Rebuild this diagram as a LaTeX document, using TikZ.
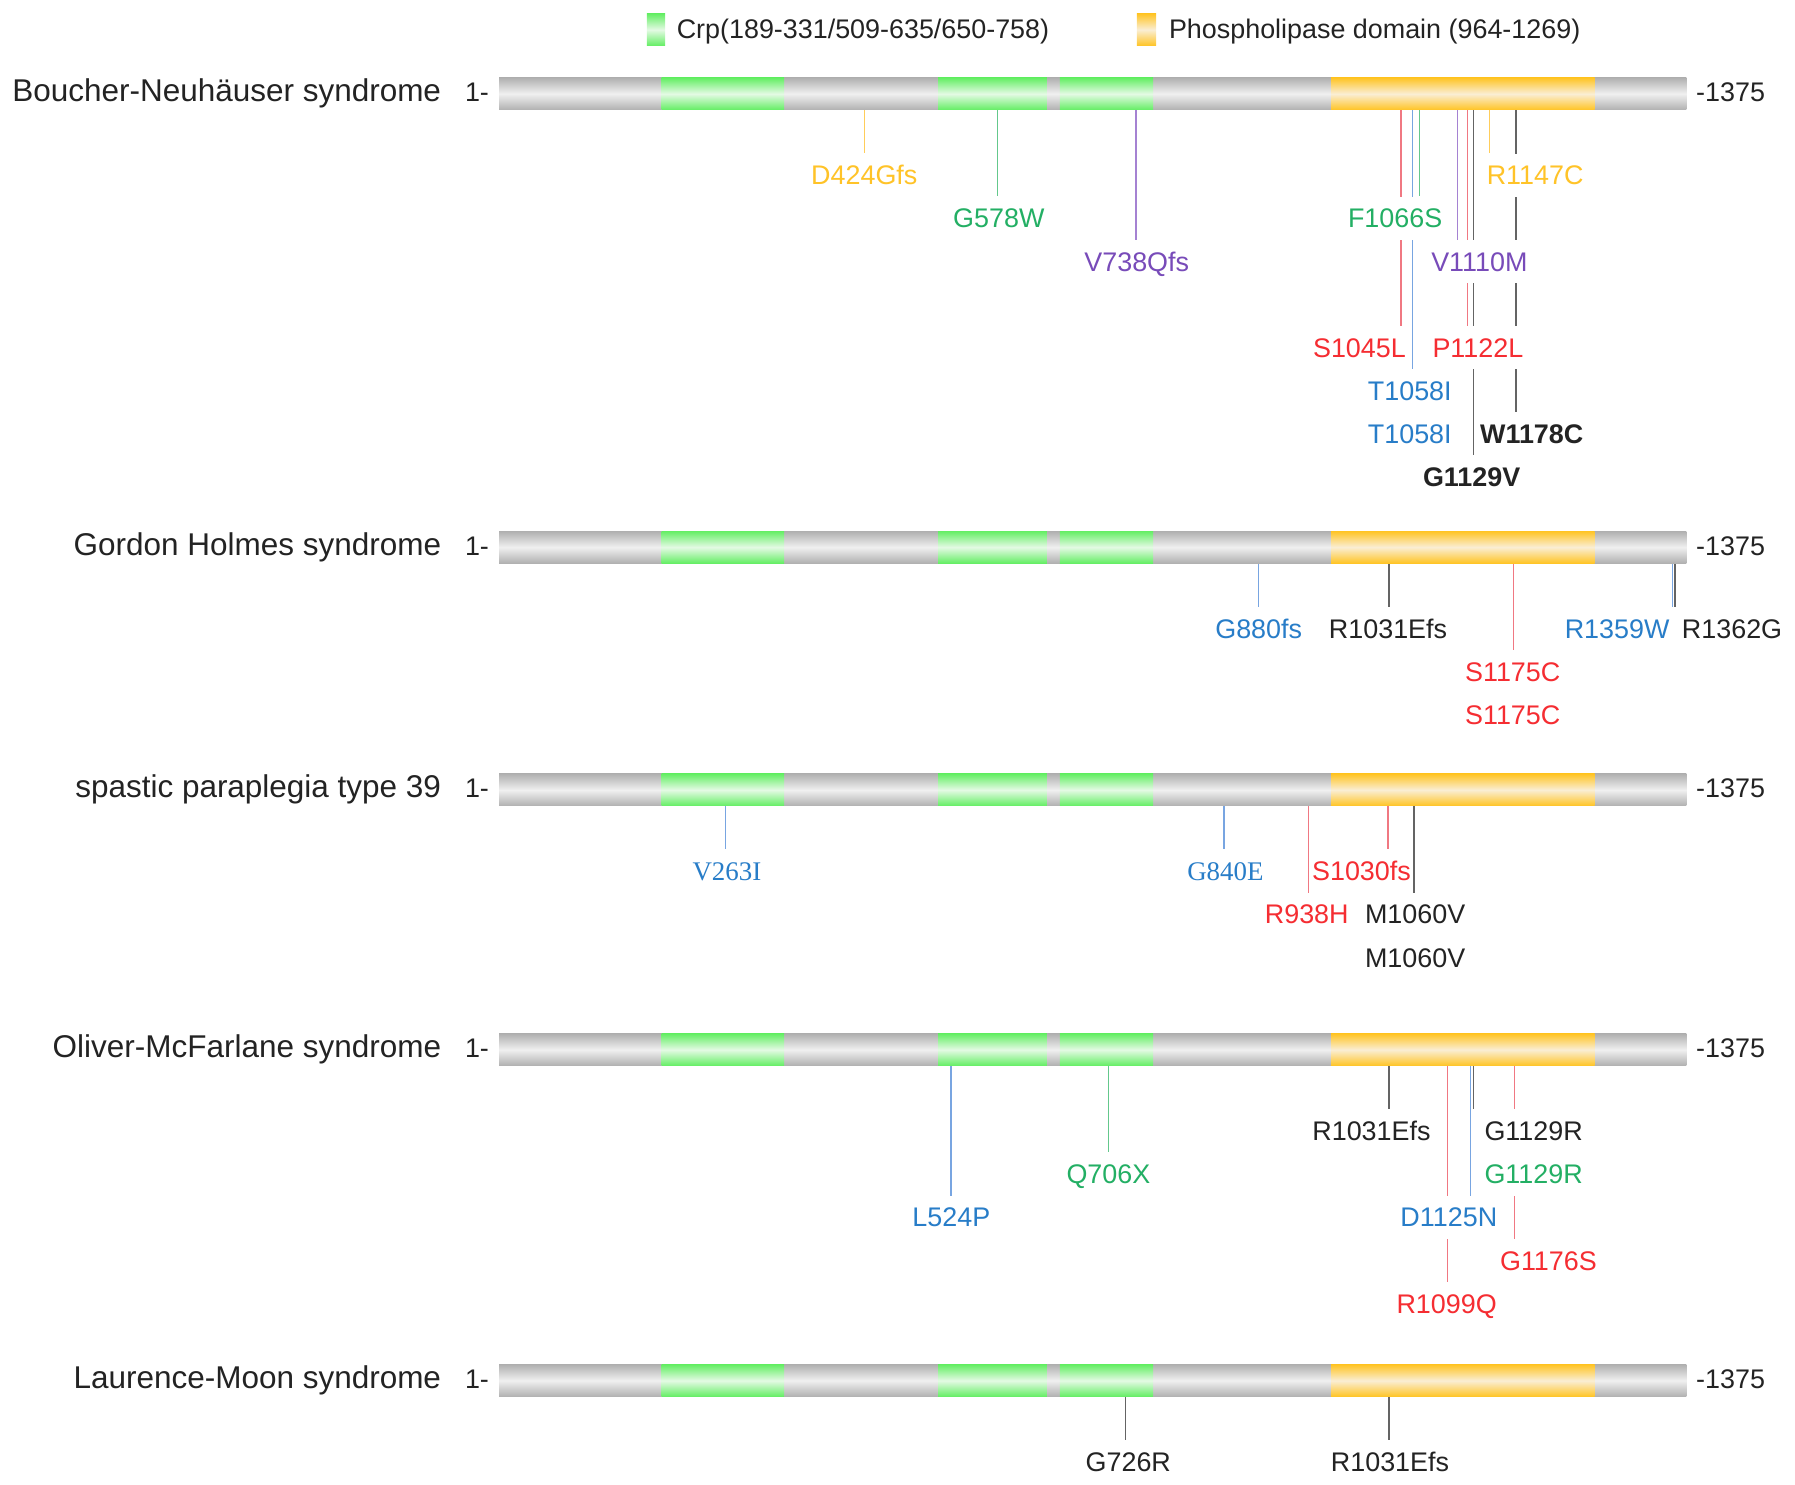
\documentclass[tikz,border=0pt]{standalone}
\usepackage{fontspec}
\setmainfont{Liberation Sans}
\newfontfamily\timesfont{Liberation Serif}
\usetikzlibrary{backgrounds}
\definecolor{baredge}{RGB}{176,176,176}
\definecolor{barmid}{RGB}{240,240,240}
\definecolor{crp}{RGB}{100,238,100}
\definecolor{crpmid}{RGB}{228,250,228}
\definecolor{pld}{RGB}{255,196,36}
\definecolor{pldmid}{RGB}{250,238,212}
\definecolor{mred}{RGB}{245,45,50}
\definecolor{mblue}{RGB}{40,125,200}
\definecolor{mgreen}{RGB}{35,175,100}
\definecolor{mpurple}{RGB}{120,75,185}
\definecolor{mgold}{RGB}{255,195,40}
\definecolor{mblack}{RGB}{35,35,35}
\definecolor{lred}{RGB}{240,120,130}
\definecolor{lblue}{RGB}{120,165,225}
\definecolor{lgreen}{RGB}{100,200,140}
\definecolor{lpurple}{RGB}{165,130,210}
\definecolor{lgold}{RGB}{255,205,90}
\definecolor{lgrey}{RGB}{100,100,100}

\begin{document}
\begin{tikzpicture}[x=1pt,y=-1pt,
  font=\fontsize{23.5}{28}\selectfont,
  bar/.style={top color=baredge,bottom color=baredge,middle color=barmid},
  crpdom/.style={top color=crp,bottom color=crp,middle color=crpmid},
  pldom/.style={top color=pld,bottom color=pld,middle color=pldmid},
  tag/.style={anchor=base west,inner sep=0pt,text=mblack},
  disease/.style={anchor=base east,inner sep=0pt,text=mblack,font=\fontsize{27.5}{32}\selectfont},
  mut/.style={fill=white,inner xsep=0.5pt,inner ysep=0pt,minimum height=37.7pt,text height=16.8pt,text depth=0pt},
  hit/.style={line width=1.2pt}]
\useasboundingbox (0,0) rectangle (1568,1297);
\shade[crpdom] (565,12) rectangle (581,40);
\node[tag] (crpkey) at (591,34) {Crp(189-331/509-635/650-758)};
\shade[pldom] (993,12) rectangle (1010,40);
\node[tag] (pldkey) at (1021,34) {Phospholipase domain (964-1269)};
\foreach \yc/\dname [count=\i] in {82/Boucher-Neuhäuser syndrome,478/Gordon Holmes syndrome,690/spastic paraplegia type 39,917/Oliver-McFarlane syndrome,1206/Laurence-Moon syndrome}{
  \node[disease] (dis\i) at (385.5,\yc+7) {\dname};
  \node[tag] (first\i) at (406,\yc+7) {1-};
  \node[tag] (last\i) at (1481.5,\yc+7) {-1375};
  \shade[bar] (436,\yc-14) rectangle (1473,\yc+14);
  \begin{scope}[xshift=435.25pt,x=0.7547pt]
    \shade[crpdom] (189,\yc-14) rectangle (331,\yc+14);
    \shade[crpdom] (509,\yc-14) rectangle (635,\yc+14);
    \shade[crpdom] (650,\yc-14) rectangle (758,\yc+14);
    \shade[pldom] (964,\yc-14) rectangle (1269,\yc+14);
  \end{scope}
}
\begin{scope}[xshift=435.25pt,x=0.7547pt]
\coordinate (bn424) at (424,96);
\coordinate (bn578) at (578,96);
\coordinate (bn738) at (738,96);
\coordinate (bn1045) at (1045,96);
\coordinate (bn1058) at (1058,96);
\coordinate (bn1066) at (1066,96);
\coordinate (bn1110) at (1110,96);
\coordinate (bn1122) at (1122,96);
\coordinate (bn1129) at (1129,96);
\coordinate (bn1147) at (1147,96);
\coordinate (bn1178) at (1178,96);
\coordinate (gh880) at (880,492);
\coordinate (gh1031) at (1031,492);
\coordinate (gh1175) at (1175,492);
\coordinate (gh1359) at (1359,492);
\coordinate (gh1362) at (1362,492);
\coordinate (sp263) at (263,704);
\coordinate (sp840) at (840,704);
\coordinate (sp938) at (938,704);
\coordinate (sp1030) at (1030,704);
\coordinate (sp1060) at (1060,704);
\coordinate (om524) at (524,931);
\coordinate (om706) at (706,931);
\coordinate (om1031) at (1031,931);
\coordinate (om1099) at (1099,931);
\coordinate (om1125) at (1125,931);
\coordinate (om1129) at (1129,931);
\coordinate (om1176) at (1176,931);
\coordinate (lm726) at (726,1220);
\coordinate (lm1031) at (1031,1220);
\end{scope}

\node[mut,text=mgold] (bnD424) at (755,153) {D424Gfs};
\node[mut,text=mgreen] (bnG578) at (872.5,190.7) {G578W};
\node[mut,text=mpurple] (bnV738) at (993,228.4) {V738Qfs};
\node[mut,text=mgreen] (bnF1066) at (1218.7,190.7) {F1066S};
\node[mut,text=mpurple] (bnV1110) at (1292.3,228.4) {V1110M};
\node[mut,text=mred] (bnS1045) at (1187.5,303.8) {S1045L};
\node[mut,text=mred] (bnP1122) at (1291,303.8) {P1122L};
\node[mut,text=mblue] (bnT1058) at (1231.5,341.5) {T1058I};
\node[mut,text=mblue] (bnT1058b) at (1231.5,379.2) {T1058I};
\node[mut,text=mgold] (bnR1147) at (1341,153) {R1147C};
\node[mut,text=mblack] (bnW1178) at (1338,379.2) {\bfseries W1178C};
\node[mut,text=mblack] (bnG1129) at (1285.5,416.9) {\bfseries G1129V};

\node[mut,text=mblue] (ghG880) at (1099.5,549) {G880fs};
\node[mut,text=mblack] (ghR1031) at (1212.5,549) {R1031Efs};
\node[mut,text=mred] (ghS1175) at (1321.4,586.7) {S1175C};
\node[mut,text=mred] (ghS1175b) at (1321.4,624.4) {S1175C};
\node[mut,text=mblue] (ghR1359) at (1412.6,549) {R1359W};
\node[mut,text=mblack] (ghR1362) at (1513,549) {R1362G};

\node[mut,text=mblue] (spV263) at (635,761) {\timesfont V263I};
\node[mut,text=mblue] (spG840) at (1070.4,761) {\timesfont G840E};
\node[mut,text=mred] (spS1030) at (1189.3,761) {S1030fs};
\node[mut,text=mred] (spR938) at (1141.5,798.7) {R938H};
\node[mut,text=mblack] (spM1060) at (1236.2,798.7) {M1060V};
\node[mut,text=mblack] (spM1060b) at (1236.2,836.4) {M1060V};

\node[mut,text=mblack] (omR1031) at (1198,988) {R1031Efs};
\node[mut,text=mblack] (omG1129) at (1339.7,988) {G1129R};
\node[mut,text=mgreen] (omQ706) at (968.2,1025.7) {Q706X};
\node[mut,text=mgreen] (omG1129b) at (1339.7,1025.7) {G1129R};
\node[mut,text=mblue] (omL524) at (831,1063.4) {L524P};
\node[mut,text=mblue] (omD1125) at (1265.6,1063.4) {D1125N};
\node[mut,text=mred] (omG1176) at (1352.6,1101.1) {G1176S};
\node[mut,text=mred] (omR1099) at (1263.7,1138.8) {R1099Q};

\node[mut,text=mblack] (lmG726) at (985.6,1277) {G726R};
\node[mut,text=mblack] (lmR1031) at (1214.2,1277) {R1031Efs};

\begin{scope}[on background layer]
\draw[hit,lgold] (bn424) -- (bn424 |- bnD424.north);
\draw[hit,lgreen] (bn578) -- (bn578 |- bnG578.north);
\draw[hit,lpurple] (bn738) -- (bn738 |- bnV738.north);
\draw[hit,lred] (bn1045) -- (bn1045 |- bnS1045.north);
\draw[hit,lblue] (bn1058) -- (bn1058 |- bnT1058.north);
\draw[hit,lgreen] (bn1066) -- (bn1066 |- bnF1066.north);
\draw[hit,lpurple] (bn1110) -- (bn1110 |- bnV1110.north);
\draw[hit,lred] (bn1122) -- (bn1122 |- bnP1122.north);
\draw[hit,lgrey] (bn1129) -- (bn1129 |- bnG1129.north);
\draw[hit,lgold] (bn1147) -- (bn1147 |- bnR1147.north);
\draw[hit,lgrey] (bn1178) -- (bn1178 |- bnW1178.north);
\draw[hit,lblue] (gh880) -- (gh880 |- ghG880.north);
\draw[hit,lgrey] (gh1031) -- (gh1031 |- ghR1031.north);
\draw[hit,lred] (gh1175) -- (gh1175 |- ghS1175.north);
\draw[hit,lblue] (gh1359) -- (gh1359 |- ghR1359.north);
\draw[hit,lgrey] (gh1362) -- (gh1362 |- ghR1362.north);
\draw[hit,lblue] (sp263) -- (sp263 |- spV263.north);
\draw[hit,lblue] (sp840) -- (sp840 |- spG840.north);
\draw[hit,lred] (sp938) -- (sp938 |- spR938.north);
\draw[hit,lred] (sp1030) -- (sp1030 |- spS1030.north);
\draw[hit,lgrey] (sp1060) -- (sp1060 |- spM1060.north);
\draw[hit,lblue] (om524) -- (om524 |- omL524.north);
\draw[hit,lgreen] (om706) -- (om706 |- omQ706.north);
\draw[hit,lgrey] (om1031) -- (om1031 |- omR1031.north);
\draw[hit,lred] (om1099) -- (om1099 |- omR1099.north);
\draw[hit,lblue] (om1125) -- (om1125 |- omD1125.north);
\draw[hit,lgrey] (om1129) -- (om1129 |- omG1129.north);
\draw[hit,lred] (om1176) -- (om1176 |- omG1176.north);
\draw[hit,lgrey] (lm726) -- (lm726 |- lmG726.north);
\draw[hit,lgrey] (lm1031) -- (lm1031 |- lmR1031.north);
\end{scope}
\end{tikzpicture}
\end{document}
